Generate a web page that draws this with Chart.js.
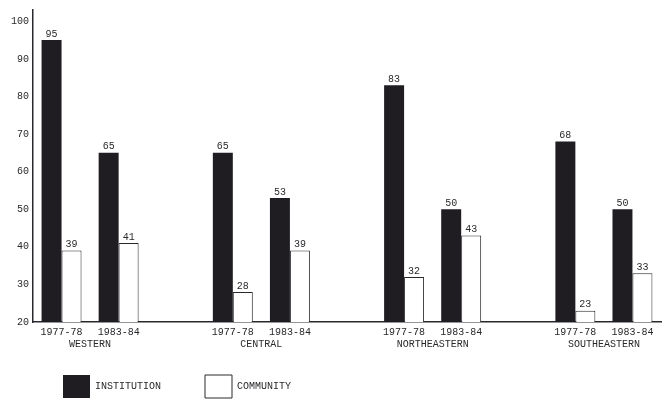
<!DOCTYPE html>
<html>
<head>
<meta charset="utf-8">
<script src="https://cdn.jsdelivr.net/npm/chart.js@4.4.1/dist/chart.umd.min.js"></script>
<style>
  html, body { margin: 0; padding: 0; background: #fff; }
  #wrap { width: 666px; height: 408px; position: relative; }
</style>
</head>
<body>
<div id="wrap"><canvas id="chart"></canvas></div>
<script>
// valori
const regions = ['WESTERN', 'CENTRAL', 'NORTHEASTERN', 'SOUTHEASTERN'];
const periods = ['1977-78', '1983-84'];
const institution = [95, 65, 65, 53, 83, 50, 68, 50];
const community = [39, 41, 28, 39, 32, 43, 23, 33];
const yTicks = [20, 30, 40, 50, 60, 70, 80, 90, 100];

const FONT = 'Liberation Mono';
const INK = '#2a282c';

// costruisco le categorie con una colonna vuota tra le regioni
const labels = [];
const instData = [];
const commData = [];
const regionPos = [];
regions.forEach((r, g) => {
    if (g > 0) {
        labels.push('');
        instData.push(null);
        commData.push(null);
    }
    regionPos.push(labels.length + 0.5);
    periods.forEach((p, k) => {
        labels.push(p);
        instData.push(institution[g * 2 + k]);
        commData.push(community[g * 2 + k]);
    });
});

const valueLabels = {
    id: 'valueLabels',
    afterDatasetsDraw(chart) {
        const ctx = chart.ctx;
        ctx.save();
        ctx.font = '10px "' + FONT + '"';
        ctx.fillStyle = INK;
        ctx.textAlign = 'center';
        ctx.textBaseline = 'bottom';
        chart.data.datasets.forEach((ds, i) => {
            chart.getDatasetMeta(i).data.forEach((bar, j) => {
                if (ds.data[j] == null) return;
                ctx.fillText(ds.data[j], bar.x, bar.y - 1);
            });
        });
        ctx.restore();
    }
};

// la legenda sta in basso a sinistra, spostata sotto il grafico
const LEGEND_PAD = 44;
const moveLegend = {
    id: 'moveLegend',
    afterLayout(chart) {
        chart.legend.left = 63 - LEGEND_PAD;
        chart.legend.top = 375 - LEGEND_PAD;
    }
};

new Chart(document.getElementById('chart'), {
    type: 'bar',
    data: {
        labels: labels,
        datasets: [{
            label: 'INSTITUTION',
            data: instData,
            backgroundColor: '#1f1d22',
            borderColor: '#1f1d22',
            borderWidth: 0,
            categoryPercentage: 0.7,
            barPercentage: 1.0
        }, {
            label: 'COMMUNITY',
            data: commData,
            backgroundColor: '#ffffff',
            borderColor: INK,
            borderWidth: 1,
            categoryPercentage: 0.7,
            barPercentage: 1.0
        }]
    },
    options: {
        responsive: true,
        maintainAspectRatio: false,
        animation: false,
        layout: { padding: { top: 10, left: 7, right: 5, bottom: 0 } },
        plugins: {
            legend: {
                position: 'bottom',
                align: 'start',
                maxHeight: 58,
                labels: {
                    boxWidth: 27,
                    boxHeight: 23,
                    padding: LEGEND_PAD,
                    color: INK,
                    font: { family: FONT, size: 10 }
                }
            },
            tooltip: { enabled: false }
        },
        scales: {
            y: {
                min: 20,
                max: 103,
                afterBuildTicks: axis => { axis.ticks = yTicks.map(v => ({ value: v })); },
                grid: { display: false, drawTicks: false },
                border: { display: true, color: INK, width: 1.5 },
                ticks: { color: INK, padding: 4, font: { family: FONT, size: 10 } }
            },
            x: {
                weight: 0,
                grid: { display: false, drawTicks: false },
                border: { display: true, color: INK, width: 1.5 },
                ticks: { color: INK, padding: 4, maxRotation: 0, autoSkip: false, font: { family: FONT, size: 10 } },
                afterFit: s => { s.height = 14; }
            },
            x2: {
                type: 'linear',
                position: 'bottom',
                weight: 1,
                offset: false,
                min: -0.5,
                max: labels.length - 0.5,
                afterBuildTicks: axis => { axis.ticks = regionPos.map(v => ({ value: v })); },
                grid: { display: false, drawTicks: false, offset: false },
                border: { display: false },
                ticks: {
                    color: INK,
                    padding: 2,
                    maxRotation: 0,
                    autoSkip: false,
                    font: { family: FONT, size: 10 },
                    callback: (v, i) => regions[i]
                },
                afterFit: s => { s.height = 14; }
            }
        }
    },
    plugins: [valueLabels, moveLegend]
});
</script>
</body>
</html>
